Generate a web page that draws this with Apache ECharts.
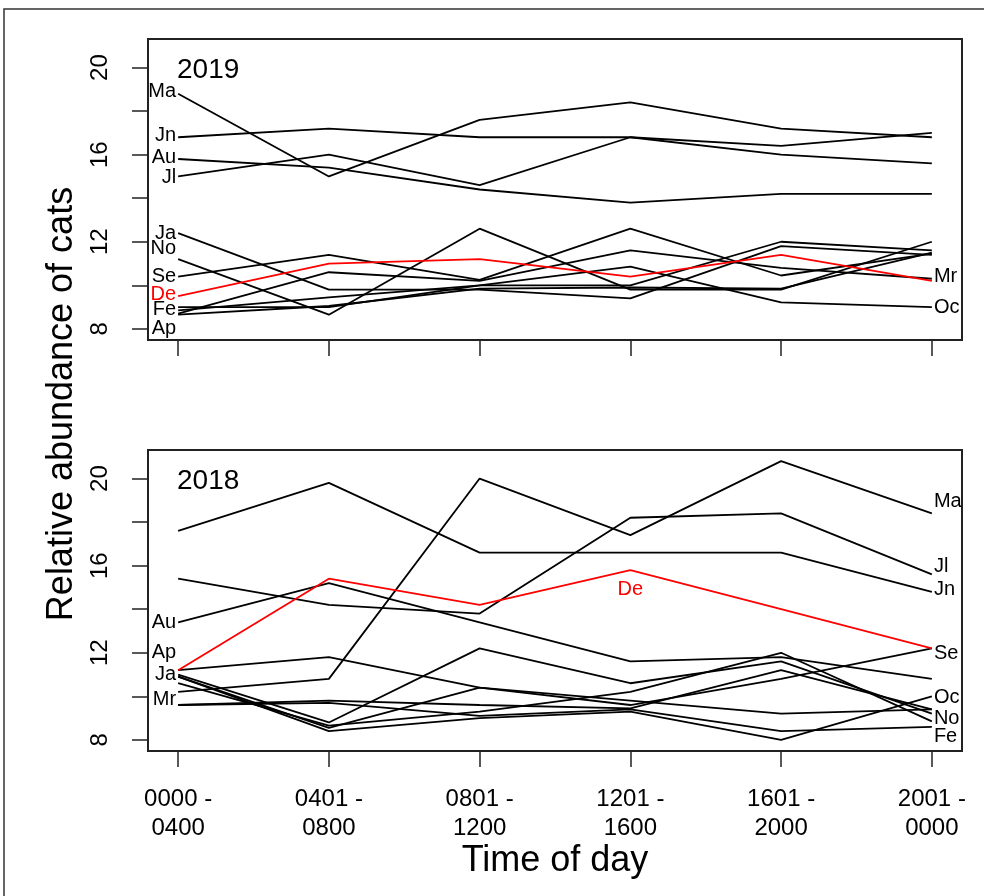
<!DOCTYPE html>
<html><head><meta charset="utf-8">
<script src="https://cdn.jsdelivr.net/npm/echarts@6/dist/echarts.min.js"></script>
<style>html,body{margin:0;padding:0;background:#fff}#c{width:984px;height:896px}</style>
</head><body><div id="c"></div><script>
// ---- data ----
const timeLabels = ['0000 -\n0400', '0401 -\n0800', '0801 -\n1200', '1201 -\n1600', '1601 -\n2000', '2001 -\n0000'];
const xPositions = [1, 2, 3, 4, 5, 6];
const yTicks = [8, 10, 12, 14, 16, 18, 20];
const yTickLabels = [8, 12, 16, 20];
const months = ['Ja', 'Fe', 'Mr', 'Ap', 'Ma', 'Jn', 'Jl', 'Au', 'Se', 'Oc', 'No', 'De'];

// 2019
const Ja19 = [12.4, 9.8, 9.8, 9.4, 11.8, 11.4];
const Fe19 = [9.0, 9.0, 10.0, 10.0, 12.0, 11.6];
const Mr19 = [8.7, 10.6, 10.2, 11.6, 10.8, 10.3];
const Ap19 = [8.65, 9.05, 9.85, 9.9, 9.85, 11.5];
const Ma19 = [18.8, 15.0, 17.6, 18.4, 17.2, 16.8];
const Jn19 = [16.8, 17.2, 16.8, 16.8, 16.4, 17.0];
const Jl19 = [15.0, 16.0, 14.6, 16.8, 16.0, 15.6];
const Au19 = [15.8, 15.4, 14.4, 13.8, 14.2, 14.2];
const Se19 = [10.4, 11.4, 10.25, 12.6, 10.45, 11.45];
const Oc19 = [8.85, 9.45, 10.0, 10.86, 9.22, 9.0];
const No19 = [11.2, 8.65, 12.6, 9.8, 9.8, 12.0];
const De19 = [9.5, 11.0, 11.2, 10.4, 11.4, 10.2];

// 2018
const Ja18 = [11.0, 8.8, 12.2, 10.6, 11.6, 9.2];
const Fe18 = [9.6, 9.7, 9.1, 9.4, 8.4, 8.6];
const Mr18 = [9.6, 9.8, 9.6, 9.45, 11.2, 9.4];
const Ap18 = [11.2, 11.8, 10.4, 9.8, 9.2, 9.4];
const Ma18 = [10.2, 10.8, 20.0, 17.4, 20.8, 18.4];
const Jn18 = [17.6, 19.8, 16.6, 16.6, 16.6, 14.8];
const Jl18 = [15.4, 14.2, 13.8, 18.2, 18.4, 15.6];
const Au18 = [13.4, 15.2, 13.4, 11.6, 11.8, 10.8];
const Se18 = [10.9, 8.55, 10.4, 9.6, 10.8, 12.2];
const Oc18 = [10.9, 8.4, 9.0, 9.3, 8.0, 10.0];
const No18 = [10.6, 8.65, 9.3, 10.2, 12.0, 8.85];
const De18 = [11.2, 15.4, 14.2, 15.8, 14.0, 12.2];

const data2019 = {Ja: Ja19, Fe: Fe19, Mr: Mr19, Ap: Ap19, Ma: Ma19, Jn: Jn19, Jl: Jl19, Au: Au19, Se: Se19, Oc: Oc19, No: No19, De: De19};
const data2018 = {Ja: Ja18, Fe: Fe18, Mr: Mr18, Ap: Ap18, Ma: Ma18, Jn: Jn18, Jl: Jl18, Au: Au18, Se: Se18, Oc: Oc18, No: No18, De: De18};

// ---- label placement (style config) ----
const lab2019 = {
  Ma: {idx: 0, pos: 'left', dy: -2}, Jn: {idx: 0, pos: 'left', dy: -2}, Au: {idx: 0, pos: 'left', dy: -2},
  Jl: {idx: 0, pos: 'left', dy: 1}, Ja: {idx: 0, pos: 'left', dy: 0}, No: {idx: 0, pos: 'left', dy: -11},
  Se: {idx: 0, pos: 'left', dy: 0}, De: {idx: 0, pos: 'left', dy: -2}, Fe: {idx: 0, pos: 'left', dy: 2},
  Ap: {idx: 0, pos: 'left', dy: 14}, Mr: {idx: 5, pos: 'right', dy: -2}, Oc: {idx: 5, pos: 'right', dy: 0}
};
const lab2018 = {
  Au: {idx: 0, pos: 'left', dy: 0}, Ap: {idx: 0, pos: 'left', dy: -18}, Ja: {idx: 0, pos: 'left', dy: 0},
  Mr: {idx: 0, pos: 'left', dy: -6}, Ma: {idx: 5, pos: 'right', dy: -12}, Jl: {idx: 5, pos: 'right', dy: -8},
  Jn: {idx: 5, pos: 'right', dy: -2}, Se: {idx: 5, pos: 'right', dy: 5}, Oc: {idx: 5, pos: 'right', dy: 1},
  No: {idx: 5, pos: 'right', dy: -3}, Fe: {idx: 5, pos: 'right', dy: 10}, De: {idx: 3, pos: 'bottom', dy: 0, dist: 9}
};

const FONT = "'Liberation Sans', Arial, Helvetica, sans-serif";
const FRAME = '#222';

function buildSeries(yearData, g, labCfg) {
  return months.map(m => {
    const color = m === 'De' ? '#ff0000' : '#000000';
    const cfg = labCfg[m];
    return {
      type: 'line', name: m + g, xAxisIndex: g, yAxisIndex: g,
      symbol: 'circle', symbolSize: 0.1, showSymbol: true,
      lineStyle: {color: color, width: 1.8}, itemStyle: {color: color},
      label: {show: false}, emphasis: {disabled: true}, silent: true,
      z: m === 'De' ? 3 : 2,
      data: yearData[m].map((v, i) => {
        const item = {value: [xPositions[i], v]};
        if (cfg && cfg.idx === i) {
          item.label = {show: true, formatter: m, position: cfg.pos, distance: cfg.dist != null ? cfg.dist : 2,
            offset: [0, cfg.dy], fontSize: 20, fontFamily: FONT, color: color};
        }
        return item;
      })
    };
  });
}

function xAxis(g, showLabels) {
  return {
    type: 'value', gridIndex: g, min: 0.8, max: 6.2,
    axisLine: {show: true, lineStyle: {color: FRAME, width: 1.5}},
    axisTick: {show: true, customValues: xPositions, length: 16, lineStyle: {color: FRAME, width: 1.5}},
    axisLabel: {show: showLabels, customValues: xPositions, formatter: v => timeLabels[Math.round(v) - 1],
      fontSize: 24, lineHeight: 29, margin: 34, color: '#000', fontFamily: FONT},
    splitLine: {show: false}
  };
}
function yAxis(g) {
  return {
    type: 'value', gridIndex: g, min: 7.488, max: 21.312,
    axisLine: {show: true, lineStyle: {color: FRAME, width: 1.5}},
    axisTick: {show: true, customValues: yTicks, length: 16, lineStyle: {color: FRAME, width: 1.5}},
    axisLabel: {show: true, customValues: yTickLabels, rotate: 90, margin: 36, fontSize: 24, color: '#000', fontFamily: FONT},
    splitLine: {show: false}
  };
}

const chart = echarts.init(document.getElementById('c'), null, {renderer: 'canvas'});
chart.setOption({
  animation: false,
  backgroundColor: '#ffffff',
  grid: [
    {left: 148, top: 39, width: 814, height: 301, show: true, borderColor: FRAME, borderWidth: 2, backgroundColor: 'transparent'},
    {left: 148, top: 450, width: 814, height: 301, show: true, borderColor: FRAME, borderWidth: 2, backgroundColor: 'transparent'}
  ],
  xAxis: [xAxis(0, false), xAxis(1, true)],
  yAxis: [yAxis(0), yAxis(1)],
  series: buildSeries(data2019, 0, lab2019).concat(buildSeries(data2018, 1, lab2018)),
  graphic: [
    {type: 'rect', shape: {x: 4, y: 9, width: 1000, height: 1000}, style: {fill: 'none', stroke: '#333', lineWidth: 1.5}, silent: true},
    {type: 'text', x: 177, y: 70, style: {text: '2019', fontSize: 28, fontFamily: FONT, fill: '#000', verticalAlign: 'middle'}},
    {type: 'text', x: 177, y: 481, style: {text: '2018', fontSize: 28, fontFamily: FONT, fill: '#000', verticalAlign: 'middle'}},
    {type: 'text', x: 62, y: 404, rotation: Math.PI / 2, style: {text: 'Relative abundance of cats', fontSize: 36, fontFamily: FONT, fill: '#000', align: 'center', verticalAlign: 'middle'}},
    {type: 'text', x: 555, y: 861, style: {text: 'Time of day', fontSize: 36, fontFamily: FONT, fill: '#000', align: 'center', verticalAlign: 'middle'}}
  ]
});
</script></body></html>
